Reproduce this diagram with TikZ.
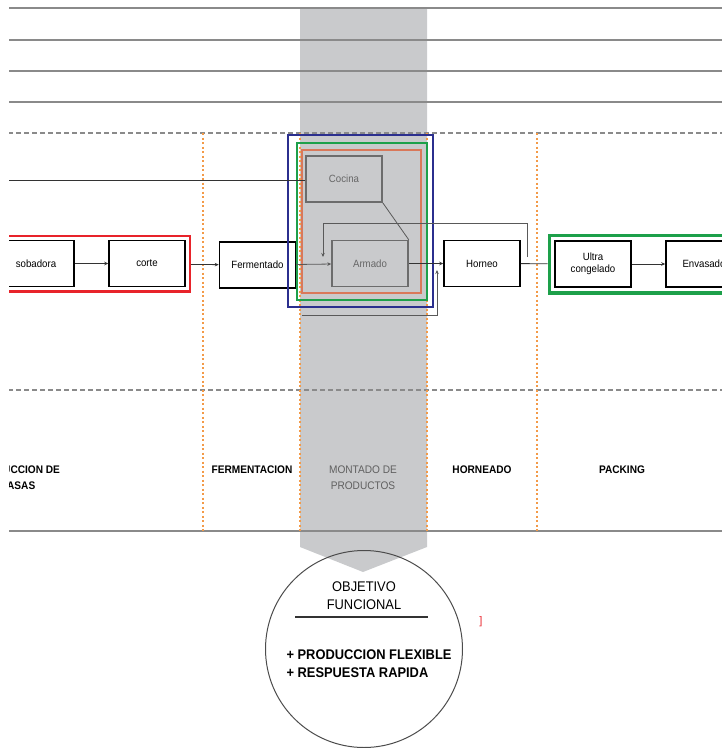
\documentclass[tikz,border=0pt]{standalone}
\usepackage{fontspec}
\setmainfont{Liberation Sans}
\newfontfamily\condfont[FakeStretch=0.92]{Liberation Sans}
\usetikzlibrary{arrows.meta,fit}
\definecolor{colgray}{HTML}{C9CACC}
\definecolor{rulegray}{HTML}{8A8A8A}
\definecolor{sepor}{HTML}{F39A48}
\definecolor{boxred}{HTML}{E8232A}
\definecolor{boxgreen}{HTML}{1DA04A}
\definecolor{boxblue}{HTML}{2B2F8E}
\definecolor{boxsalmon}{HTML}{D9785A}

\begin{document}
\begin{tikzpicture}[x=1pt, y=-1pt, >={Stealth[length=4pt,width=3.5pt]},
  proc/.style={draw, line width=1.5pt, minimum width=76pt, minimum height=46pt, align=center, font=\condfont\fontsize{10.5}{12}\selectfont},
  ghost/.style={proc, draw=gray!85!black, text=gray!80!black},
  flow/.style={line width=0.8pt, draw=black!80},
  rule/.style={draw=rulegray, line width=1.8pt},
  lane/.style={draw=rulegray, line width=1.6pt, dash pattern=on 5pt off 3pt},
  sep/.style={draw=sepor, line width=1.4pt, dash pattern=on 2pt off 2.5pt},
  stage/.style={align=center, font=\condfont\bfseries\fontsize{11}{16}\selectfont}]
\useasboundingbox (0,0) rectangle (722,748);
\clip (9,0) rectangle (722,748);

% gray column
\fill[colgray] (300,8) -- (427,8) -- (427,547) -- (363,572) -- (300,547) -- cycle;

% rows
\foreach \y in {8,40,71,102} \draw[rule] (0,\y) -- (722,\y);
\draw[lane] (0,133) -- (722,133);
\draw[lane] (0,390) -- (722,390);
\draw[rule] (0,531) -- (722,531);
\foreach \x in {203,300,427,537} \draw[sep] (\x,133) -- (\x,531);

% process boxes
\node[proc] (sobadora) at (36,263.5) {sobadora};
\node[proc] (corte) at (147,263.5) {corte};
\node[proc] (ferm) at (257.5,265) {Fermentado};
\node[ghost] (cocina) at (344,179) {Cocina};
\node[ghost] (armado) at (370,263.5) {Armado};
\node[proc] (horneo) at (482,263.5) {Horneo};
\node[proc] (ultra) at (593,264) {Ultra\\congelado};
\node[proc] (envasado) at (704,264) {Envasado};

% groups
\node[draw=boxred, line width=2.5pt, inner sep=4pt, fit=(sobadora)(corte)] (masas) {};
\node[draw=boxgreen, line width=3.5pt, inner sep=5pt, fit=(ultra)(envasado)] (packing) {};
\draw[boxblue, line width=2.2pt] (288,135) rectangle (433,307);
\draw[boxgreen, line width=2pt] (297,143) rectangle (427,300);
\draw[boxsalmon, line width=2.2pt] (302,150) rectangle (421,293);

% connectors
\coordinate (cin) at (0,180);
\coordinate (fbout) at (527,257);
\coordinate (fbin) at (323,257);
\coordinate (lpin) at (302,315);
\coordinate (lpout) at (437,270);
\draw[flow] (cin) -- (cin -| cocina.west);
\draw[flow,->] (sobadora) -- (corte);
\draw[flow,->] (masas) -- (ferm);
\draw[flow,->,draw=black!65] (ferm) -- (armado);
\draw[flow,draw=black!65] (cocina.south east) -- (armado.north east);
\draw[flow,->] (armado) -- (horneo);
\draw[flow] (horneo) -- (packing);
\draw[flow,->] (ultra) -- (envasado);
\draw[flow,->,draw=black!65] (fbout) -- ++(0,-34) -| (fbin);
\draw[flow,->,draw=black!65] (lpin) -| (lpout);

% stage labels
\node[stage] (lmasas) at (17,478) {PRODUCCION DE\\MASAS};
\node[stage] (lferm) at (252,470) {FERMENTACION};
\node[stage, font=\condfont\fontsize{11}{16}\selectfont, text=gray!75!black] (lmont) at (363,478) {MONTADO DE\\PRODUCTOS};
\node[stage] (lhorn) at (482,470) {HORNEADO};
\node[stage] (lpack) at (622,470) {PACKING};

% objective
\node[circle, draw=black!70, line width=1pt, minimum size=197pt] (obj) at (364,649) {};
\node[align=center, font=\condfont\fontsize{14}{18}\selectfont] (objtit) at (364,596) {OBJETIVO\\FUNCIONAL};
\draw[line width=1.6pt, black!80] (295,617) -- (428,617);
\node[align=left, font=\condfont\bfseries\fontsize{14}{18}\selectfont] (objlist) at (369,664) {+ PRODUCCION FLEXIBLE\\+ RESPUESTA RAPIDA};
\node[text=boxred, font=\fontsize{11}{11}\selectfont] (mark) at (481,622) {]};
\end{tikzpicture}
\end{document}
